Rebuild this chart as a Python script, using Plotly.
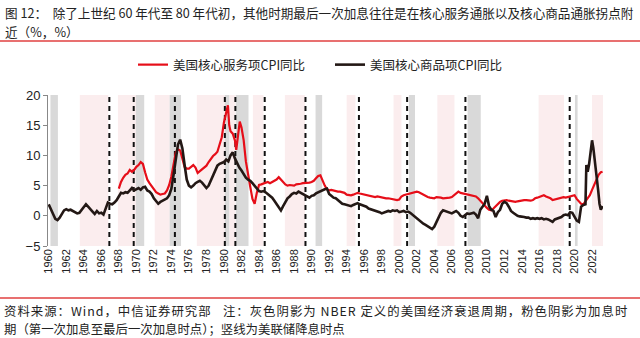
import plotly.graph_objects as go

# ---- core goods CPI YoY (%), by decimal year ----
goods_t = [1960.0, 1960.25, 1960.5, 1960.75, 1961.0, 1961.25, 1961.5, 1961.75, 1962.0, 1962.25, 1962.5, 1962.75,
           1963.0, 1963.25, 1963.5, 1963.75, 1964.0, 1964.25, 1964.5, 1964.75, 1965.0, 1965.25, 1965.5, 1965.75,
           1966.0, 1966.25, 1966.5, 1966.75, 1967.0, 1967.25, 1967.5, 1967.75, 1968.0, 1968.25, 1968.5, 1968.75,
           1969.0, 1969.25, 1969.5, 1969.75, 1970.0, 1970.25, 1970.5, 1970.75, 1971.0, 1971.25, 1971.5, 1971.75,
           1972.0, 1972.25, 1972.5, 1972.75, 1973.0, 1973.25, 1973.5, 1973.75, 1974.0, 1974.25, 1974.5, 1974.75,
           1975.0, 1975.25, 1975.5, 1975.75, 1976.0, 1976.25, 1976.5, 1976.75, 1977.0, 1977.25, 1977.5, 1977.75,
           1978.0, 1978.25, 1978.5, 1978.75, 1979.0, 1979.25, 1979.5, 1979.75, 1980.0, 1980.25, 1980.5, 1980.75,
           1981.0, 1981.25, 1981.5, 1981.75, 1982.0, 1982.25, 1982.5, 1982.75, 1983.0, 1983.25, 1983.5, 1983.75,
           1984.0, 1984.25, 1984.5, 1984.75, 1985.0, 1985.25, 1985.5, 1985.75, 1986.0, 1986.25, 1986.5, 1986.75,
           1987.0, 1987.25, 1987.5, 1987.75, 1988.0, 1988.25, 1988.5, 1988.75, 1989.0, 1989.25, 1989.5, 1989.75,
           1990.0, 1990.25, 1990.5, 1990.75, 1991.0, 1991.25, 1991.5, 1991.75, 1992.0, 1992.25, 1992.5, 1992.75,
           1993.0, 1993.25, 1993.5, 1993.75, 1994.0, 1994.25, 1994.5, 1994.75, 1995.0, 1995.25, 1995.5, 1995.75,
           1996.0, 1996.25, 1996.5, 1996.75, 1997.0, 1997.25, 1997.5, 1997.75, 1998.0, 1998.25, 1998.5, 1998.75,
           1999.0, 1999.25, 1999.5, 1999.75, 2000.0, 2000.25, 2000.5, 2000.75, 2001.0, 2001.25, 2001.5, 2001.75,
           2002.0, 2002.25, 2002.5, 2002.75, 2003.0, 2003.25, 2003.5, 2003.75, 2004.0, 2004.25, 2004.5, 2004.75,
           2005.0, 2005.25, 2005.5, 2005.75, 2006.0, 2006.25, 2006.5, 2006.75, 2007.0, 2007.25, 2007.5, 2007.75,
           2008.0, 2008.25, 2008.5, 2008.75, 2009.0, 2009.25, 2009.5, 2009.75, 2010.0, 2010.25, 2010.5, 2010.75,
           2011.0, 2011.25, 2011.5, 2011.75, 2012.0, 2012.25, 2012.5, 2012.75, 2013.0, 2013.25, 2013.5, 2013.75,
           2014.0, 2014.25, 2014.5, 2014.75, 2015.0, 2015.25, 2015.5, 2015.75, 2016.0, 2016.25, 2016.5, 2016.75,
           2017.0, 2017.25, 2017.5, 2017.75, 2018.0, 2018.25, 2018.5, 2018.75, 2019.0, 2019.25, 2019.5, 2019.75,
           2020.0, 2020.25, 2020.5, 2020.75, 2021.0, 2021.25, 2021.35, 2021.5, 2021.65, 2021.8, 2022.0, 2022.15,
           2022.3, 2022.5, 2022.7, 2022.85, 2023.0, 2023.2]
goods_v = [1.9, 1.2, 0.3, -0.5, -0.7, -0.3, 0.4, 0.9, 1.1, 0.9, 1.0, 0.8,
           0.7, 0.4, 0.5, 1.0, 1.5, 1.9, 1.5, 1.0, 0.7, 0.3, 0.8, 0.4,
           0.5, 0.2, 1.2, 2.2, 2.0, 1.9, 2.2, 2.6, 3.2, 3.8, 3.7, 3.9,
           3.8, 4.2, 4.6, 4.2, 4.4, 4.6, 4.3, 4.7, 4.8, 4.2, 4.0, 3.6,
           2.9, 2.4, 2.0, 2.3, 2.5, 2.6, 2.9, 3.4, 4.5, 6.8, 9.5, 11.8,
           12.6, 11.2, 8.5, 6.0, 5.0, 4.7, 5.0, 5.4, 5.6, 5.8, 5.5, 5.0,
           4.6, 5.0, 5.8, 6.8, 7.6, 8.3, 8.6, 8.8, 8.9, 9.3, 9.0, 10.0,
           10.5, 9.5, 8.7, 8.0, 7.5, 6.8, 6.3, 6.0, 5.8, 5.4, 4.9, 4.5,
           4.1, 4.0, 4.1, 3.9, 3.6, 3.2, 3.0, 2.5, 2.0, 1.4, 0.9, 1.6,
           2.3, 2.9, 3.2, 3.6, 3.8, 3.7, 4.0, 3.8, 3.6, 3.4, 3.1, 3.0,
           3.3, 3.4, 3.7, 3.9, 4.0, 4.2, 4.4, 4.5, 3.6, 3.3, 3.0, 2.9,
           2.6, 2.3, 2.0, 1.9, 1.8, 1.7, 1.6, 1.8, 2.0, 2.1, 1.9, 1.8,
           1.7, 1.5, 1.2, 1.1, 1.0, 0.8, 0.7, 0.6, 0.4, 0.5, 0.6, 0.8,
           0.7, 0.9, 0.8, 0.9, 0.6, 0.7, 0.8, 0.6, 0.7, 0.5, 0.2, -0.2,
           -0.5, -0.7, -1.1, -1.3, -1.5, -1.7, -1.9, -2.2, -1.8, -1.0, -0.2, 0.5,
           0.9, 0.8, 0.7, 0.5, 0.4, 0.6, 0.8, 0.5, 0.0, -0.2, 0.1, 0.4,
           0.3, 0.4, 0.5, 0.2, -0.4, 1.0, 1.6, 2.0, 3.3, 1.6, 1.0, 0.8,
           -0.2, 0.6, 1.0, 2.0, 2.3, 2.1, 1.5, 0.8, 0.5, 0.2, 0.0, -0.1,
           -0.1, -0.2, -0.3, -0.3, -0.5, -0.4, -0.5, -0.4, -0.5, -0.4, -0.6, -0.5,
           -0.6, -0.8, -1.0, -0.6, -0.5, -0.3, -0.2, 0.1, 0.2, 0.1, 0.6, 0.5,
           -0.2, -0.8, -1.0, 1.5, 1.8, 1.9, 8.4, 7.3, 8.4, 10.5, 12.5, 11.2,
           9.5, 6.8, 4.2, 2.0, 1.0, 1.6]

# ---- core services CPI YoY (%), by decimal year ----
serv_t = [1968.0, 1968.25, 1968.5, 1968.75, 1969.0, 1969.25, 1969.5, 1969.75, 1970.0, 1970.25, 1970.5, 1970.75,
          1971.0, 1971.25, 1971.5, 1971.75, 1972.0, 1972.25, 1972.5, 1972.75, 1973.0, 1973.25, 1973.5, 1973.75,
          1974.0, 1974.25, 1974.5, 1974.75, 1975.0, 1975.25, 1975.5, 1975.75, 1976.0, 1976.25, 1976.5, 1976.75,
          1977.0, 1977.25, 1977.5, 1977.75, 1978.0, 1978.25, 1978.5, 1978.75, 1979.0, 1979.25, 1979.5, 1979.75,
          1980.0, 1980.25, 1980.45, 1980.6, 1980.75, 1981.0, 1981.25, 1981.4, 1981.6, 1981.8, 1982.0, 1982.25,
          1982.5, 1982.75, 1983.0, 1983.25, 1983.5, 1983.75, 1984.0, 1984.25, 1984.5, 1984.75, 1985.0, 1985.25,
          1985.5, 1985.75, 1986.0, 1986.25, 1986.5, 1986.75, 1987.0, 1987.25, 1987.5, 1987.75, 1988.0, 1988.25,
          1988.5, 1988.75, 1989.0, 1989.25, 1989.5, 1989.75, 1990.0, 1990.25, 1990.5, 1990.75, 1991.0, 1991.25,
          1991.5, 1991.75, 1992.0, 1992.25, 1992.5, 1992.75, 1993.0, 1993.25, 1993.5, 1993.75, 1994.0, 1994.25,
          1994.5, 1994.75, 1995.0, 1995.25, 1995.5, 1995.75, 1996.0, 1996.25, 1996.5, 1996.75, 1997.0, 1997.25,
          1997.5, 1997.75, 1998.0, 1998.25, 1998.5, 1998.75, 1999.0, 1999.25, 1999.5, 1999.75, 2000.0, 2000.25,
          2000.5, 2000.75, 2001.0, 2001.25, 2001.5, 2001.75, 2002.0, 2002.25, 2002.5, 2002.75, 2003.0, 2003.25,
          2003.5, 2003.75, 2004.0, 2004.25, 2004.5, 2004.75, 2005.0, 2005.25, 2005.5, 2005.75, 2006.0, 2006.25,
          2006.5, 2006.75, 2007.0, 2007.25, 2007.5, 2007.75, 2008.0, 2008.25, 2008.5, 2008.75, 2009.0, 2009.25,
          2009.5, 2009.75, 2010.0, 2010.25, 2010.5, 2010.75, 2011.0, 2011.25, 2011.5, 2011.75, 2012.0, 2012.25,
          2012.5, 2012.75, 2013.0, 2013.25, 2013.5, 2013.75, 2014.0, 2014.25, 2014.5, 2014.75, 2015.0, 2015.25,
          2015.5, 2015.75, 2016.0, 2016.25, 2016.5, 2016.75, 2017.0, 2017.25, 2017.5, 2017.75, 2018.0, 2018.25,
          2018.5, 2018.75, 2019.0, 2019.25, 2019.5, 2019.75, 2020.0, 2020.25, 2020.5, 2020.75, 2021.0, 2021.25,
          2021.5, 2021.75, 2022.0, 2022.25, 2022.5, 2022.75, 2023.0, 2023.2]
serv_v = [4.5, 5.6, 6.3, 6.8, 7.0, 7.6, 7.3, 7.6, 8.1, 8.4, 8.9, 8.6,
          7.2, 6.0, 5.4, 4.9, 4.3, 3.9, 3.7, 3.5, 3.6, 3.7, 4.2, 5.1,
          6.5, 8.5, 10.5, 11.0, 10.8, 9.5, 8.1, 7.8, 7.8, 8.1, 8.4, 8.0,
          7.1, 7.4, 7.7, 7.9, 8.3, 8.9, 9.5, 9.9, 10.2, 10.6, 11.8, 13.0,
          15.5, 17.0, 18.3, 15.0, 14.0, 13.6, 12.5, 10.9, 13.8, 15.6, 14.6, 12.5,
          9.0, 7.2, 4.8, 2.8, 2.0, 3.8, 5.1, 5.2, 5.3, 5.5, 5.6, 5.4,
          5.6, 5.8, 6.0, 6.4, 5.9, 5.6, 5.2, 5.0, 5.1, 5.1, 5.0, 5.2,
          5.2, 5.3, 5.4, 5.4, 5.5, 5.5, 5.6, 5.8, 6.2, 6.6, 6.7, 5.8,
          5.0, 4.4, 4.2, 4.3, 4.2, 4.0, 4.0, 4.0, 3.9, 3.8, 3.5, 3.4,
          3.4, 3.5, 3.6, 3.8, 3.7, 3.6, 3.5, 3.4, 3.3, 3.2, 3.1, 3.1,
          3.2, 3.1, 3.0, 2.9, 2.9, 2.9, 2.8, 2.8, 2.7, 2.6, 2.7, 3.2,
          3.4, 3.5, 3.6, 3.7, 3.8, 3.9, 4.0, 3.9, 3.7, 3.4, 3.2, 3.1,
          3.0, 2.9, 2.9, 3.1, 3.1, 3.0, 2.9, 2.9, 3.0, 3.0, 3.1, 3.4,
          3.8, 4.0, 3.8, 3.7, 3.6, 3.5, 3.4, 3.4, 3.3, 3.2, 2.9, 2.5,
          2.0, 1.6, 1.3, 1.0, 0.9, 1.2, 1.6, 1.9, 2.3, 2.5, 2.6, 2.6,
          2.5, 2.4, 2.4, 2.3, 2.4, 2.5, 2.5, 2.6, 2.6, 2.5, 2.5, 2.6,
          2.9, 3.0, 3.1, 3.3, 3.4, 3.2, 3.1, 2.9, 2.6, 2.7, 2.8, 3.0,
          3.1, 3.1, 3.0, 3.1, 3.1, 3.2, 3.4, 2.8, 2.3, 2.0, 1.9, 2.4,
          3.0, 3.4, 4.3, 5.2, 6.0, 6.8, 7.2, 7.3]

# ---- NBER recessions (grey) ----
recession_start = [1960.2, 1969.95, 1973.8, 1980.1, 1981.35, 1990.45, 2001.1, 2007.8, 2020.05]
recession_end = [1961.05, 1970.9, 1975.1, 1980.6, 1982.8, 1991.2, 2001.8, 2009.3, 2020.35]

# ---- Fed hiking cycles (pink) ----
hike_start = [1963.55, 1967.9, 1972.1, 1976.9, 1980.6, 1983.3, 1986.95, 1994.0, 1999.35, 2004.35, 2015.9, 2022.0]
hike_end = [1966.8, 1969.95, 1973.8, 1980.1, 1981.3, 1984.5, 1989.25, 1995.0, 2000.25, 2006.3, 2018.8, 2023.25]

# ---- first rate cuts (dashed) ----
cut_dates = [1966.92, 1969.7, 1974.4, 1980.1, 1981.3, 1984.65, 1989.3, 1995.4, 2000.9, 2007.55, 2019.45]

tick_years = list(range(1960, 2023, 2))
tick_text = [str(y) for y in tick_years]

X_RANGE = [1959.92, 2023.25]
Y_RANGE = [-5, 20]

RED = "#E60E19"
DARK = "#231815"
FONT = "Liberation Sans, Noto Sans CJK SC, sans-serif"
CJK = "Noto Sans CJK SC, Liberation Sans, sans-serif"

# page geometry (px) for the plot box
L, R, T, B = 48, 37, 95, 92
W, H = 640, 338
PW, PH = W - L - R, H - T - B


def px_x(px):
    return (px - L) / PW


def px_y(py):
    return (H - B - py) / PH


fig = go.Figure()

fig.add_trace(go.Scatter(x=serv_t, y=serv_v, mode="lines", name="美国核心服务项CPI同比",
                         line=dict(color=RED, width=2.2)))
fig.add_trace(go.Scatter(x=goods_t, y=goods_v, mode="lines", name="美国核心商品项CPI同比",
                         line=dict(color=DARK, width=2.6)))

shapes = []
for s, e in zip(hike_start, hike_end):
    shapes.append(dict(type="rect", xref="x", yref="paper", x0=s, x1=e, y0=0, y1=1,
                       fillcolor="#FBEDEE", line=dict(width=0), layer="below"))
for s, e in zip(recession_start, recession_end):
    shapes.append(dict(type="rect", xref="x", yref="paper", x0=s, x1=e, y0=0, y1=1,
                       fillcolor="#D9D9D9", line=dict(width=0), layer="below"))
for d in cut_dates:
    shapes.append(dict(type="line", xref="x", yref="paper", x0=d, x1=d, y0=0, y1=1,
                       line=dict(color="#111111", width=2, dash="5px,4px"), layer="below"))
# red rules under the heading and above the source note
shapes.append(dict(type="line", xref="paper", yref="paper", x0=px_x(0), x1=px_x(640),
                   y0=px_y(41), y1=px_y(41), line=dict(color="#E04040", width=1.5)))
shapes.append(dict(type="line", xref="paper", yref="paper", x0=px_x(0), x1=px_x(640),
                   y0=px_y(298), y1=px_y(298), line=dict(color="#E04040", width=1.5)))

annotations = [
    dict(text="图 12：  除了上世纪 60 年代至 80 年代初，其他时期最后一次加息往往是在核心服务通胀以及核心商品通胀拐点附",
         x=px_x(3), y=px_y(12), xref="paper", yref="paper", xanchor="left", yanchor="middle",
         showarrow=False, font=dict(family=CJK, size=12.6, color="#222222")),
    dict(text="近（%，%）",
         x=px_x(3), y=px_y(31), xref="paper", yref="paper", xanchor="left", yanchor="middle",
         showarrow=False, font=dict(family=CJK, size=12.6, color="#222222")),
    dict(text="<span style=\"letter-spacing:1px\">资料来源：Wind，中信证券研究部   注：灰色阴影为 NBER 定义的美国经济衰退周期，粉色阴影为加息时</span>",
         x=px_x(3), y=px_y(311), xref="paper", yref="paper", xanchor="left", yanchor="middle",
         showarrow=False, borderpad=0, font=dict(family=CJK, size=12.4, color="#222222")),
    dict(text="期（第一次加息至最后一次加息时点）；竖线为美联储降息时点",
         x=px_x(3), y=px_y(329), xref="paper", yref="paper", xanchor="left", yanchor="middle",
         showarrow=False, borderpad=0, font=dict(family=CJK, size=12.4, color="#222222")),
]

fig.update_layout(
    width=W, height=H,
    margin=dict(l=L, r=R, t=T, b=B),
    paper_bgcolor="white", plot_bgcolor="white",
    font=dict(family=FONT, color="#222222"),
    showlegend=True,
    legend=dict(orientation="h", x=px_x(133), y=px_y(65), xanchor="left", yanchor="middle",
                font=dict(family=CJK, size=12.5, color="#222222"),
                bgcolor="rgba(0,0,0,0)", entrywidth=152, entrywidthmode="pixels"),
    xaxis=dict(range=X_RANGE, tickmode="array", tickvals=tick_years, ticktext=tick_text,
               tickangle=-90, tickfont=dict(size=11, color="#222222"), showgrid=False,
               zeroline=False, showline=False, ticks=""),
    xaxis2=dict(range=X_RANGE, overlaying="x", anchor="free", position=0.2,
                tickmode="array", tickvals=tick_years, showticklabels=False,
                showline=True, linecolor="#888888", linewidth=1, ticks="outside",
                ticklen=3, tickcolor="#888888", showgrid=False, zeroline=False),
    yaxis=dict(range=Y_RANGE, dtick=5, tick0=0, showgrid=False, zeroline=False,
               showline=True, linecolor="#888888", linewidth=1, ticks="outside",
               ticklen=4, tickcolor="#888888", tickfont=dict(size=13, color="#222222")),
    shapes=shapes,
    annotations=annotations,
)

fig.write_html("out.html")
